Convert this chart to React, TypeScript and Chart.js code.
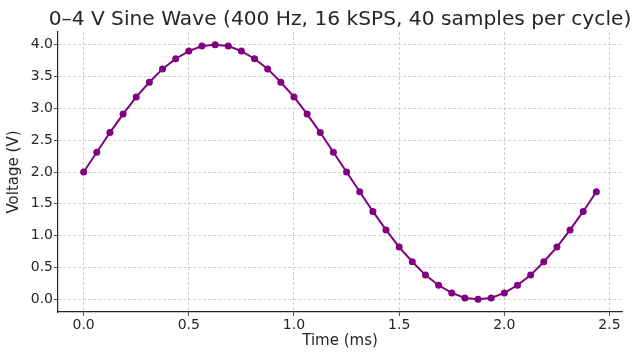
import React, { useEffect, useRef } from "react";
import { Chart, registerables } from "chart.js";

Chart.register(...registerables);

const TITLE = "0–4 V Sine Wave (400 Hz, 16 kSPS, 40 samples per cycle)";
const X_LABEL = "Time (ms)";
const Y_LABEL = "Voltage (V)";

const timeMs = [
  0.0, 0.0625, 0.125, 0.1875, 0.25, 0.3125, 0.375, 0.4375, 0.5, 0.5625,
  0.625, 0.6875, 0.75, 0.8125, 0.875, 0.9375, 1.0, 1.0625, 1.125, 1.1875,
  1.25, 1.3125, 1.375, 1.4375, 1.5, 1.5625, 1.625, 1.6875, 1.75, 1.8125,
  1.875, 1.9375, 2.0, 2.0625, 2.125, 2.1875, 2.25, 2.3125, 2.375, 2.4375,
];

const voltage = [
  2.0, 2.31, 2.62, 2.91, 3.18, 3.41, 3.62, 3.78, 3.9, 3.98,
  4.0, 3.98, 3.9, 3.78, 3.62, 3.41, 3.18, 2.91, 2.62, 2.31,
  2.0, 1.69, 1.38, 1.09, 0.82, 0.59, 0.38, 0.22, 0.1, 0.02,
  0.0, 0.02, 0.1, 0.22, 0.38, 0.59, 0.82, 1.09, 1.38, 1.69,
];

const X_MIN = -0.1219;
const X_MAX = 2.5594;
const Y_MIN = -0.2;
const Y_MAX = 4.2;

const FONT = "'DejaVu Sans', sans-serif";
const TEXT_COLOR = "#262626";

const titlePlugin = {
  id: "centeredTitle",
  afterDraw(chart: any) {
    const { ctx, chartArea } = chart;
    ctx.save();
    ctx.font = `20.2px ${FONT}`;
    ctx.fillStyle = TEXT_COLOR;
    ctx.textAlign = "center";
    ctx.textBaseline = "alphabetic";
    ctx.fillText(TITLE, (chartArea.left + chartArea.right) / 2, chartArea.top - 7);
    ctx.restore();
  },
};

export default function App() {
  const ref = useRef<HTMLCanvasElement | null>(null);

  useEffect(() => {
    if (!ref.current) return;
    const gridColor = "rgba(176,176,176,0.75)";
    const chart = new Chart(ref.current, {
      type: "line",
      data: {
        datasets: [
          {
            data: timeMs.map((t, i) => ({ x: t, y: voltage[i] })),
            borderColor: "#800080",
            backgroundColor: "#800080",
            borderWidth: 2,
            pointRadius: 3.5,
            pointBorderWidth: 0,
            pointBackgroundColor: "#800080",
            tension: 0,
          },
        ],
      },
      plugins: [titlePlugin],
      options: {
        responsive: false,
        animation: false,
        layout: { padding: { left: 0, right: 18, top: 32, bottom: 0 } },
        plugins: {
          legend: { display: false },
          tooltip: { enabled: false },
          title: { display: false },
        },
        scales: {
          x: {
            type: "linear",
            min: X_MIN,
            max: X_MAX,
            afterFit: (s: any) => {
              s.height = 48;
            },
            ticks: {
              stepSize: 0.5,
              includeBounds: false,
              color: TEXT_COLOR,
              font: { family: FONT, size: 14 },
              padding: 1,
              maxRotation: 0,
              callback: (v: any) => Number(v).toFixed(1),
            },
            grid: {
              color: gridColor,
              lineWidth: 0.8,
              drawTicks: true,
              tickLength: 4,
              tickColor: "#262626",
              tickBorderDash: [],
              tickWidth: 0.8,
            },
            border: { display: true, color: "#262626", width: 1.2, dash: [3, 2] },
            title: {
              display: true,
              text: X_LABEL,
              color: TEXT_COLOR,
              font: { family: FONT, size: 15 },
              padding: { top: 0, bottom: 9.5 },
            },
          },
          y: {
            type: "linear",
            min: Y_MIN,
            max: Y_MAX,
            afterFit: (s: any) => {
              s.width = 58;
            },
            ticks: {
              stepSize: 0.5,
              includeBounds: false,
              color: TEXT_COLOR,
              font: { family: FONT, size: 14 },
              padding: 1,
              callback: (v: any) => Number(v).toFixed(1),
            },
            grid: {
              color: gridColor,
              lineWidth: 0.8,
              drawTicks: true,
              tickLength: 4,
              tickColor: "#262626",
              tickBorderDash: [],
              tickWidth: 0.8,
            },
            border: { display: true, color: "#262626", width: 1.2, dash: [3, 2] },
            title: {
              display: true,
              text: Y_LABEL,
              color: TEXT_COLOR,
              font: { family: FONT, size: 15 },
              padding: { top: 5, bottom: 0 },
            },
          },
        },
      },
    });
    return () => chart.destroy();
  }, []);

  return (
    <div style={{ position: "fixed", left: 0, top: 0, width: 640, height: 360, background: "#fff" }}>
      <canvas ref={ref} width={640} height={360} style={{ width: 640, height: 360, display: "block" }} />
    </div>
  );
}
